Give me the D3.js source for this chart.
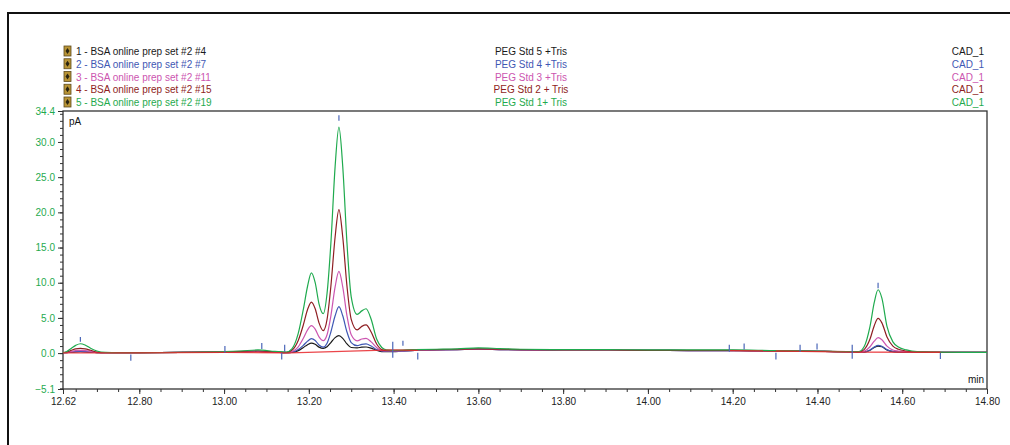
<!DOCTYPE html>
<html>
<head>
<meta charset="utf-8">
<script src="https://cdn.jsdelivr.net/npm/d3@7"></script>
<style>
  body { margin: 0; background: #fff; }
  svg { display: block; font-family: "Liberation Sans", Arial, sans-serif; }
</style>
</head>
<body>
<div class="chart"></div>
<script>
// retention time grid (min), shared by all traces
const times = [12.62, 12.628, 12.64, 12.65, 12.661, 12.672, 12.685, 12.70, 12.72, 12.75,
  12.80, 12.90, 13.00, 13.04, 13.08, 13.12,
  13.147, 13.16, 13.175, 13.187, 13.197, 13.206, 13.215, 13.224, 13.234, 13.243, 13.252, 13.262,
  13.271, 13.280, 13.290, 13.300, 13.314, 13.325, 13.335, 13.347, 13.360, 13.372, 13.383,
  13.40,
  13.45, 13.50, 13.55, 13.60, 13.65, 13.70,
  13.80, 13.90, 14.00, 14.10, 14.20, 14.30, 14.40, 14.48,
  14.497, 14.510, 14.524, 14.534, 14.543, 14.552, 14.564, 14.578, 14.591, 14.61, 14.635,
  14.70, 14.80];

// signal (pA) for each run
const run1 = [0.05, 0.07, 0.12, 0.18, 0.2, 0.18, 0.12, 0.07, 0.05, 0.05,
  0.05, 0.1, 0.15, 0.2, 0.25, 0.15,
  0.05, 0.1, 0.35, 0.8, 1.2, 1.43, 1.25, 0.85, 0.67, 0.9, 1.5, 2.2, 2.47, 2.1, 1.3, 0.8, 0.75, 0.85, 0.87, 0.7, 0.4, 0.2, 0.2,
  0.2,
  0.4, 0.45, 0.5, 0.55, 0.5, 0.45,
  0.4, 0.4, 0.4, 0.35, 0.35, 0.3, 0.25, 0.15,
  0.1, 0.15, 0.4, 0.8, 1.0, 0.9, 0.45, 0.2, 0.15, 0.15, 0.15,
  0.1, 0.1];
const run2 = [0.05, 0.08, 0.15, 0.22, 0.25, 0.22, 0.15, 0.08, 0.05, 0.05,
  0.05, 0.1, 0.15, 0.2, 0.25, 0.15,
  0.05, 0.1, 0.5, 1.1, 1.7, 2.05, 1.8, 1.15, 0.85, 1.4, 3.0, 5.3, 6.6, 5.3, 3.0, 1.5, 1.05, 1.25, 1.3, 1.0, 0.5, 0.3, 0.25,
  0.25,
  0.4, 0.45, 0.5, 0.55, 0.5, 0.45,
  0.4, 0.4, 0.4, 0.35, 0.35, 0.3, 0.25, 0.15,
  0.1, 0.15, 0.45, 0.85, 1.1, 0.95, 0.5, 0.25, 0.15, 0.15, 0.15,
  0.1, 0.1];
const run3 = [0.05, 0.1, 0.25, 0.35, 0.4, 0.35, 0.25, 0.1, 0.05, 0.05,
  0.05, 0.1, 0.15, 0.2, 0.25, 0.15,
  0.05, 0.2, 0.9, 2.1, 3.3, 3.9, 3.4, 2.3, 1.76, 2.6, 5.3, 9.4, 11.6, 9.4, 5.3, 2.6, 1.75, 2.0, 2.1, 1.6, 0.8, 0.35, 0.3,
  0.3,
  0.4, 0.45, 0.5, 0.55, 0.5, 0.45,
  0.4, 0.4, 0.4, 0.35, 0.35, 0.3, 0.25, 0.15,
  0.1, 0.25, 0.9, 1.7, 2.19, 1.9, 1.0, 0.45, 0.3, 0.2, 0.15,
  0.1, 0.1];
const run4 = [0.05, 0.15, 0.4, 0.6, 0.67, 0.6, 0.4, 0.15, 0.05, 0.05,
  0.05, 0.1, 0.15, 0.25, 0.3, 0.2,
  0.1, 0.4, 1.8, 4.0, 6.2, 7.25, 6.3, 4.3, 3.2, 4.8, 9.5, 16.5, 20.4, 16.5, 9.5, 4.8, 3.3, 3.8, 4.0, 3.0, 1.3, 0.5, 0.35,
  0.35,
  0.45, 0.5, 0.55, 0.6, 0.55, 0.5,
  0.45, 0.45, 0.4, 0.4, 0.4, 0.3, 0.25, 0.2,
  0.15, 0.5, 2.0, 3.9, 4.93, 4.3, 2.3, 1.0, 0.55, 0.3, 0.15,
  0.1, 0.1];
const run5 = [0.05, 0.2, 0.7, 1.1, 1.33, 1.15, 0.7, 0.3, 0.1, 0.05,
  0.05, 0.1, 0.2, 0.3, 0.45, 0.25,
  0.15, 0.6, 2.8, 6.2, 9.5, 11.4, 10.0, 7.0, 5.6, 8.5, 15.6, 26.5, 32.1, 26.5, 15.6, 8.0, 5.5, 6.0, 6.3, 4.8, 2.0, 0.8, 0.45,
  0.4,
  0.5, 0.55, 0.6, 0.75, 0.65, 0.55,
  0.5, 0.5, 0.45, 0.45, 0.45, 0.35, 0.3, 0.2,
  0.2, 0.9, 3.8, 7.2, 9.0, 7.8, 3.8, 1.6, 0.87, 0.45, 0.2,
  0.12, 0.1];

const runs = [run1, run2, run3, run4, run5];
const sampleNames = ["1 - BSA online prep set #2 #4", "2 - BSA online prep set #2 #7",
  "3 - BSA online prep set #2 #11", "4 - BSA online prep set #2 #15", "5 - BSA online prep set #2 #19"];
const stdNames = ["PEG Std 5 +Tris", "PEG Std 4 +Tris", "PEG Std 3 +Tris", "PEG Std 2 + Tris", "PEG Std 1+ Tris"];
const channelNames = ["CAD_1", "CAD_1", "CAD_1", "CAD_1", "CAD_1"];
const colors = ["#1a1a1a", "#3f58b4", "#cc55b0", "#8e1e22", "#1faa4e"];

// integration baselines [t0, v0, t1, v1]
const baselines = [[12.62, 0.02, 12.78, 0.02], [12.78, 0.02, 13.00, 0.1], [13.00, 0.1, 13.137, 0.05],
  [13.137, 0.0, 13.398, 0.45], [13.398, 0.45, 13.457, 0.4],
  [14.192, 0.35, 14.302, 0.3], [14.302, 0.3, 14.359, 0.25], [14.359, 0.25, 14.482, 0.15],
  [14.482, 0.15, 14.69, 0.12]];

// peak start/end/apex markers [t, vLow, vHigh]
const markers = [[12.661, 1.6, 2.3], [12.78, -1.1, -0.2], [13.002, 0.05, 1.0], [13.089, 0.6, 1.45],
  [13.143, 0.2, 1.2], [13.136, -0.9, 0.05], [13.271, 33.0, 33.8], [13.398, -0.65, 1.6],
  [13.422, 1.05, 1.75], [13.457, -0.9, 0.05], [14.192, 0.2, 1.2], [14.227, 0.5, 1.35],
  [14.302, -0.9, 0.05], [14.359, 0.2, 1.2], [14.399, 0.5, 1.35], [14.482, -0.8, 1.2],
  [14.543, 9.2, 10.0], [14.69, -0.85, 0.0]];

const xMajor = [12.62, 12.80, 13.00, 13.20, 13.40, 13.60, 13.80, 14.00, 14.20, 14.40, 14.60, 14.80];
const yMajor = [-5.1, 0, 5, 10, 15, 20, 25, 30, 34.4];

const W = 1010, H = 445;
const margin = {top: 111, right: 23, bottom: 56, left: 63};
const width = W - margin.left - margin.right,
    height = H - margin.top - margin.bottom;

const root = d3.select(".chart").append("svg")
  .attr("width", W)
  .attr("height", H);

// outer frame
root.append("path")
  .attr("d", "M8,445V13H1010")
  .attr("fill", "none")
  .attr("stroke", "#111")
  .attr("stroke-width", 2);

const svg = root.append("g")
  .attr("transform", "translate(" + margin.left + "," + margin.top + ")");

const xScale = d3.scaleLinear().domain([12.62, 14.80]).range([0, width]);
const yScale = d3.scaleLinear().domain([-5.1, 34.4]).range([height, 0]);

// minor ticks
const xMinor = d3.range(12.65, 14.79, 0.05).map(d => +d.toFixed(2));
const yMinor = d3.range(-5, 35, 1);

svg.append("g")
  .attr("transform", "translate(0," + height + ")")
  .call(d3.axisBottom(xScale).tickValues(xMinor).tickSize(3).tickFormat(""))
  .call(g => g.select(".domain").remove());

svg.append("g")
  .attr("transform", "translate(0," + height + ")")
  .call(d3.axisBottom(xScale).tickValues(xMajor).tickSize(5).tickPadding(4).tickFormat(d3.format(".2f")))
  .call(g => g.select(".domain").remove())
  .call(g => g.selectAll("text").attr("fill", "#222").attr("font-size", 10).attr("font-family", "Liberation Sans, Arial"));

svg.append("g")
  .call(d3.axisLeft(yScale).tickValues(yMinor).tickSize(3).tickFormat(""))
  .call(g => g.select(".domain").remove());

svg.append("g")
  .call(d3.axisLeft(yScale).tickValues(yMajor).tickSize(5).tickPadding(3).tickFormat(d3.format(".1f")))
  .call(g => g.select(".domain").remove())
  .call(g => g.selectAll("text").attr("fill", colors[4]).attr("font-size", 10).attr("font-family", "Liberation Sans, Arial"));

svg.selectAll(".tick line").attr("stroke", "#333");

// plot box
svg.append("rect")
  .attr("width", width)
  .attr("height", height)
  .attr("fill", "none")
  .attr("stroke", "#333")
  .attr("stroke-width", 1.3);

svg.append("text").attr("x", 6).attr("y", 14)
  .attr("font-size", 10).attr("fill", "#111").text("pA");
svg.append("text").attr("x", width - 3).attr("y", height - 6)
  .attr("text-anchor", "end").attr("font-size", 10).attr("fill", "#111").text("min");

// traces
const line = d3.line()
  .x(d => xScale(d[0]))
  .y(d => yScale(d[1]))
  .curve(d3.curveMonotoneX);

svg.selectAll(".trace")
  .data(runs)
  .enter()
  .append("path")
  .attr("class", "trace")
  .attr("d", r => line(times.map((t, i) => [t, r[i]])))
  .attr("fill", "none")
  .attr("stroke", (r, i) => colors[i])
  .attr("stroke-width", 1.2);

svg.selectAll(".base")
  .data(baselines)
  .enter()
  .append("line")
  .attr("class", "base")
  .attr("x1", d => xScale(d[0]))
  .attr("y1", d => yScale(d[1]))
  .attr("x2", d => xScale(d[2]))
  .attr("y2", d => yScale(d[3]))
  .attr("stroke", "#e8262a")
  .attr("stroke-opacity", 0.85)
  .attr("stroke-width", 1.3);

svg.selectAll(".marker")
  .data(markers)
  .enter()
  .append("line")
  .attr("class", "marker")
  .attr("x1", d => xScale(d[0]))
  .attr("x2", d => xScale(d[0]))
  .attr("y1", d => yScale(d[1]))
  .attr("y2", d => yScale(d[2]))
  .attr("stroke", "#4a66b8")
  .attr("stroke-width", 1.2);

// legend
const legend = root.append("g");
const rowY = i => 55 + i * 12.75;

sampleNames.forEach((name, i) => {
  const y = rowY(i);
  legend.append("rect")
    .attr("x", 64).attr("y", y - 9).attr("width", 7).attr("height", 10)
    .attr("fill", "#b89436").attr("stroke", "#5e4a1c").attr("stroke-width", 0.8);
  legend.append("path")
    .attr("d", "M67.5," + (y - 7) + "l2,3l-2,3l-2,-3z")
    .attr("fill", "#2a2410");
  legend.append("text").attr("x", 76).attr("y", y)
    .attr("font-size", 10).attr("fill", colors[i]).text(name);
  legend.append("text").attr("x", 531).attr("y", y)
    .attr("text-anchor", "middle").attr("font-size", 10).attr("fill", colors[i]).text(stdNames[i]);
  legend.append("text").attr("x", 984).attr("y", y)
    .attr("text-anchor", "end").attr("font-size", 10).attr("fill", colors[i]).text(channelNames[i]);
});
</script>
</body>
</html>
